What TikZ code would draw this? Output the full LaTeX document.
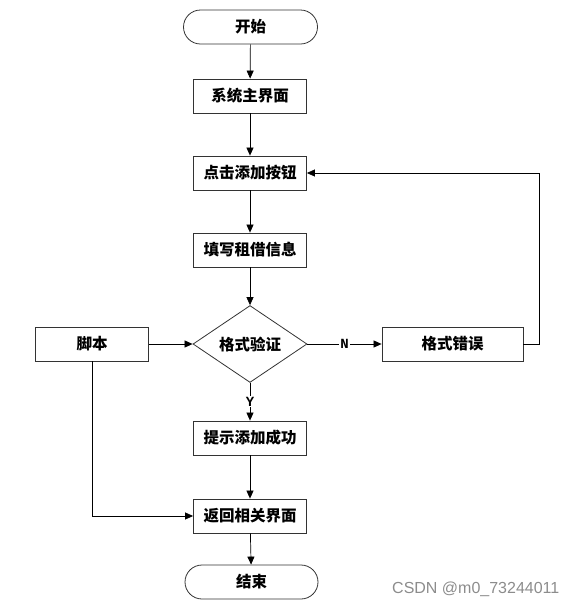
\documentclass[tikz,border=0pt]{standalone}
\usepackage{fontspec}
\usetikzlibrary{arrows.meta,shapes.geometric}
\newfontfamily\cjk{Noto Sans CJK SC}
\newfontfamily\monolbl{Liberation Mono}
\newfontfamily\wmfont{Liberation Sans}
\begin{document}
\begin{tikzpicture}[x=1pt,y=-1pt,
  box/.style={draw=black!80, line width=0.8pt, minimum width=113pt, minimum height=34pt, inner sep=0pt,
    font=\cjk\bfseries\fontsize{15.5}{15.5}\selectfont},
  term/.style={box, rounded corners=17pt, minimum width=134pt},
  dec/.style={box, diamond, minimum width=114pt, minimum height=68pt},
  conn/.style={draw=black, line width=0.7pt, -{Triangle[length=8pt,width=7pt]}},
  lbl/.style={font=\monolbl\bfseries\fontsize{14}{14}\selectfont, fill=white, inner sep=1pt}]
\useasboundingbox (0,0) rectangle (582,614);
\node[term] (start) at (250.5,27) {开始};
\node[box] (s1) at (250,96) {系统主界面};
\node[box] (s2) at (250,173) {点击添加按钮};
\node[box] (s3) at (250,250) {填写租借信息};
\node[dec] (dec) at (250,344) {格式验证};
\node[box] (script) at (92,344) {脚本};
\node[box, minimum width=141pt] (err) at (452.5,344) {格式错误};
\node[box] (s4) at (250,438) {提示添加成功};
\node[box] (s5) at (250,516) {返回相关界面};
\node[term, minimum width=133pt] (end) at (251.5,582) {结束};
\coordinate (loop) at (539,344);
\path[conn] (start) -- (s1);
\path[conn] (s1) -- (s2);
\path[conn] (s2) -- (s3);
\path[conn] (s3) -- (dec);
\path[conn] (script) -- (dec);
\path[conn] (dec) -- node[lbl] {N} (err);
\path[conn] (dec) -- node[lbl] {Y} (s4);
\path[conn] (err.east) -- (loop) |- (s2.east);
\path[conn] (script.south) |- (s5.west);
\path[conn] (s4) -- (s5);
\path[conn] (s5) -- (end);
\node[anchor=west, text=black!45, inner sep=0pt, font=\wmfont\fontsize{16}{16}\selectfont] (wm) at (392,589) {CSDN @m0\_73244011};
\end{tikzpicture}
\end{document}
